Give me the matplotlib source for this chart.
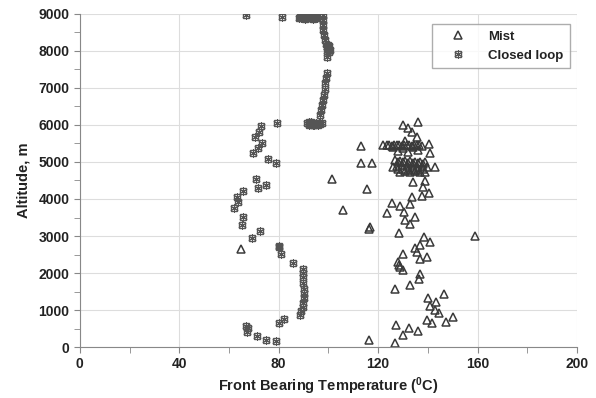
import matplotlib.pyplot as plt

plt.rcParams['font.family'] = ['Liberation Sans', 'DejaVu Sans']
plt.rcParams['font.weight'] = 'bold'
plt.rcParams['axes.labelweight'] = 'bold'
plt.rcParams['mathtext.fontset'] = 'custom'
plt.rcParams['mathtext.rm'] = 'Liberation Sans:bold'
plt.rcParams['mathtext.it'] = 'Liberation Sans:bold'
plt.rcParams['mathtext.bf'] = 'Liberation Sans:bold'

# Mist: front bearing temperature (C) and altitude (m)
mist_temp = [136, 130, 132, 133.6, 135.6, 113, 122, 131, 140.4,
             123.5, 124.5, 125.5, 126.5, 127.5, 128.5, 129.5, 130.5, 131.5, 132.5,
             133.5, 134.5, 135.5, 136.5, 137.5, 126, 130, 134, 128, 132, 136,
             141, 113, 117.5, 126, 143,
             127, 128, 129, 130, 131, 132, 133, 134, 135, 136, 137, 138, 139,
             127.5, 129.5, 131.5, 133.5, 135.5, 137.5, 139.5,
             128, 130, 132, 134, 136, 138, 129, 131, 133, 135, 137, 139,
             101.4, 134, 139, 138, 115.5, 140.5, 137.6, 133.6, 106, 125.6, 129,
             133, 123.5, 130.4, 134.8, 131, 133, 116.3, 128.4, 138.4, 141, 137,
             135, 135.6, 130, 139.6, 137, 128, 128.4, 159,
             128.8, 130, 137, 136.4, 132.8, 126.8, 146.5, 140, 143.3, 141, 143,
             144.5, 150, 139.6, 141.7, 147.3, 127.2, 132.4, 136, 130, 116.3, 127,
             116.7, 64.8]
mist_alt = [6080, 6000, 5920, 5810, 5680, 5430, 5460, 5570, 5490,
            5450, 5470, 5440, 5460, 5450, 5470, 5440, 5460, 5450, 5470,
            5440, 5460, 5450, 5470, 5440, 5400, 5380, 5400, 5300, 5280, 5320,
            5240, 4970, 4970, 4860, 4860,
            5050, 5000, 5040, 4990, 5030, 4980, 5020, 4970, 5010, 4960, 5000, 4950, 4990,
            4900, 4920, 4880, 4910, 4870, 4900, 4860,
            4800, 4820, 4790, 4810, 4780, 4800, 4740, 4750, 4730, 4760, 4740, 4720,
            4540, 4450, 4480, 4320, 4270, 4160, 4080, 4050, 3700, 3890, 3810,
            3860, 3620, 3650, 3510, 3430, 3320, 3190, 3080, 2970, 2840, 2760,
            2680, 2570, 2510, 2430, 2380, 2300, 2220, 3000,
            2160, 2080, 1970, 1840, 1680, 1570, 1430, 1320, 1220, 1110, 1000,
            920, 810, 730, 650, 670, 590, 510, 430, 320, 200, 120,
            3240, 2650]

# Closed loop
loop_temp = [67, 81.3, 88, 88.5, 89, 89.5, 90, 90.5, 91, 91.5, 92, 92.5, 93,
             93.5, 94, 94.5, 95, 95.4,
             97.8, 97.8, 98, 98, 98.2, 98.8,
             99.2, 99.8, 100.4, 99.4, 100, 100.6, 99.6, 100.2, 99.4,
             99.4, 99, 98.8, 98.6, 98.2, 97.8, 97.4, 97, 96.6,
             91.3, 92, 92.6, 93.2, 93.8, 94.4, 95, 95.6, 96.2, 96.8, 97.4, 92, 94, 96,
             79.3, 72.8, 72, 70.4, 73.2, 71.6, 69.6, 75.6, 78.9, 70.8, 71.6, 74.8,
             65.6, 63.2, 63.6, 62, 65.6, 65.2, 72.4, 69.2, 80,
             80, 80.9, 85.7, 89.7, 89.7, 89.7, 89.7, 90, 90, 90, 89.7, 89.7, 89,
             88.5, 82, 80, 66.8, 67.6, 67.2, 71.2, 74.8, 78.9]
loop_alt = [8970, 8920, 8890, 8910, 8880, 8920, 8900, 8870, 8910, 8890, 8920, 8880,
            8900, 8910, 8870, 8900, 8920, 8890,
            8970, 8840, 8700, 8570, 8430, 8300,
            8200, 8170, 8130, 8100, 8060, 8030, 8000, 7970, 7840,
            7400, 7270, 7130, 6970, 6810, 6680, 6540, 6400, 6270,
            6050, 6080, 6030, 6070, 6040, 6010, 6060, 6030, 6050, 6020, 6040, 6000, 6000, 6010,
            6050, 5970, 5810, 5680, 5510, 5380, 5240, 5080, 4970, 4540, 4300, 4380,
            4220, 4050, 3920, 3760, 3510, 3300, 3140, 2950, 2730,
            2700, 2510, 2270, 2110, 2000, 1880, 1730, 1570, 1460, 1320, 1190, 1080, 970,
            860, 760, 650, 570, 510, 410, 300, 190, 160]

x_ticks = [0, 40, 80, 120, 160, 200]
y_ticks = list(range(0, 9001, 1000))

fig = plt.figure(figsize=(5.96, 3.98), dpi=100)
ax = fig.add_axes([0.134, 0.128, 0.834, 0.837])

ink = '#3a3a3a'
h_mist, = ax.plot(mist_temp, mist_alt, linestyle='none', marker='^', markersize=5.5,
                  markerfacecolor='none', markeredgecolor=ink, markeredgewidth=1.1)
sq, = ax.plot(loop_temp, loop_alt, linestyle='none', marker='s', markersize=4.5,
              markerfacecolor='none', markeredgecolor='#555555', markeredgewidth=1.0)
st, = ax.plot(loop_temp, loop_alt, linestyle='none', marker=(6, 2, 0), markersize=6,
              markeredgecolor='#555555', markeredgewidth=0.7)

ax.set_xlim(0, 200)
ax.set_ylim(0, 9000)
ax.set_xticks(x_ticks, labels=[str(v) for v in x_ticks], fontweight='bold',
              fontsize=10, color='#222222')
ax.set_xticks(range(0, 201, 20), minor=True)
ax.set_yticks(y_ticks, labels=[str(v) for v in y_ticks], fontweight='bold',
              fontsize=10, color='#222222')
ax.set_yticks(range(0, 9001, 500), minor=True)
ax.grid(True, which='major', color='#dddddd', linewidth=0.8)
ax.set_axisbelow(True)
for s in ['top', 'right']:
    ax.spines[s].set_visible(False)
for s in ['left', 'bottom']:
    ax.spines[s].set_color('#888888')
ax.tick_params(which='both', direction='out', color='#888888', length=4)

ax.set_xlabel(r'Front Bearing Temperature ($^{0}$C)', fontsize=10.5, color='#222222',
              labelpad=3)
ax.set_ylabel('Altitude, m', fontsize=10.5, color='#222222', labelpad=6)

leg = ax.legend([h_mist, (sq, st)], ['Mist', 'Closed loop'], loc='upper right',
                bbox_to_anchor=(1.0, 0.99), prop={'size': 9.5, 'weight': 'bold'},
                frameon=True, fancybox=False, edgecolor='#999999',
                handlelength=3.0, borderpad=0.5)
leg.get_frame().set_linewidth(1.0)
for t in leg.get_texts():
    t.set_color('#222222')

fig.savefig('out.png', dpi=100)
